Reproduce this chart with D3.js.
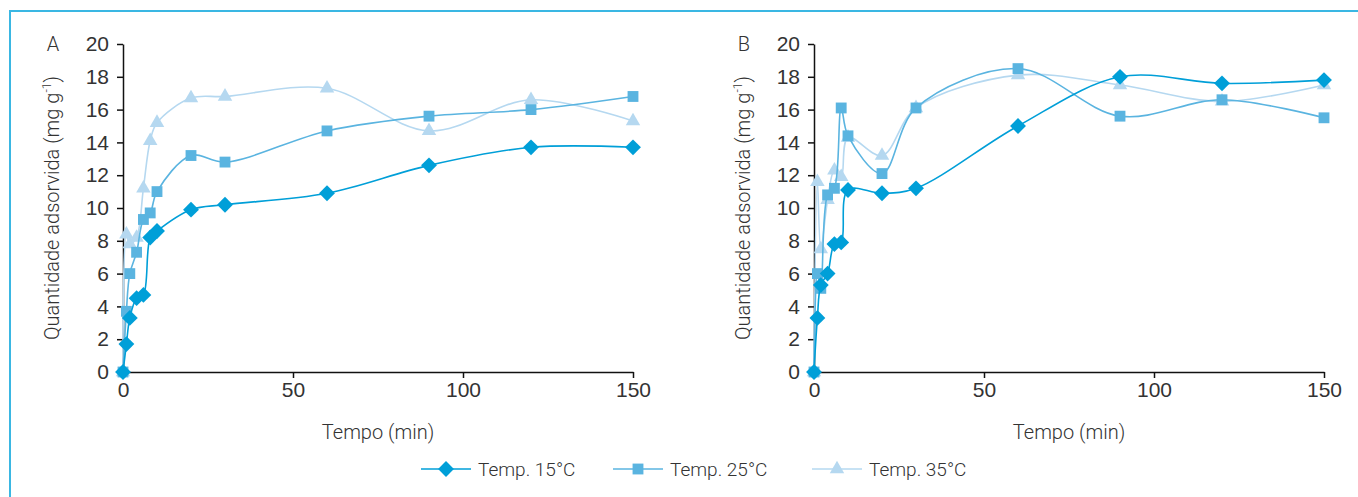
<!DOCTYPE html>
<html>
<head>
<meta charset="utf-8">
<script src="https://cdn.jsdelivr.net/npm/d3@7"></script>
<style>
  body { margin: 0; background: #fff; }
  svg { display: block; font-family: "Roboto", "Open Sans", sans-serif; font-weight: 300; }
</style>
</head>
<body>
<div id="chart-container"></div>
<script>
const width = 1358;
const height = 497;

// time points (min), shared by all series
const tempo = [0, 1, 2, 4, 6, 8, 10, 20, 30, 60, 90, 120, 150];

// panel A
const a15 = [0, 1.7, 3.3, 4.5, 4.7, 8.2, 8.6, 9.9, 10.2, 10.9, 12.6, 13.7, 13.7];
const a25 = [0, 3.7, 6.0, 7.3, 9.3, 9.7, 11.0, 13.2, 12.8, 14.7, 15.6, 16.0, 16.8];
const a35 = [0, 8.4, 7.8, 8.2, 11.2, 14.1, 15.2, 16.7, 16.8, 17.3, 14.7, 16.6, 15.3];

// panel B
const b15 = [0, 3.3, 5.3, 6.0, 7.8, 7.9, 11.1, 10.9, 11.2, 15.0, 18.0, 17.6, 17.8];
const b25 = [0, 6.0, 5.1, 10.8, 11.2, 16.1, 14.4, 12.1, 16.1, 18.5, 15.6, 16.6, 15.5];
const b35 = [0, 11.6, 7.5, 10.5, 12.3, 11.9, 14.3, 13.2, 16.1, 18.1, 17.5, 16.5, 17.5];

const seriesNames = ["Temp. 15°C", "Temp. 25°C", "Temp. 35°C"];
const colors = ["#009fd8", "#5ab4e0", "#b5d8f0"];
const symbols = [d3.symbolDiamond2, d3.symbolSquare2, d3.symbolTriangle2];
const symbolSizes = [160, 150, 150];

const xTicks = [0, 50, 100, 150];
const yTicks = d3.range(0, 21, 2);

const panels = [
  { label: "A", left: 123, series: [a15, a25, a35] },
  { label: "B", left: 814, series: [b15, b25, b35] }
];

const svg = d3.select("#chart-container")
  .append("svg")
  .attr("viewBox", [0, 0, width, height])
  .attr("width", width)
  .attr("height", height);

// frame
svg.append("path")
  .attr("d", `M10,${height} V11 H${width}`)
  .attr("fill", "none")
  .attr("stroke", "#3ab7e3")
  .attr("stroke-width", 2);

const plotTop = 44, plotBottom = 372, plotW = 510;
const textColor = "#333";

panels.forEach(p => {
  const x = d3.scaleLinear([0, 150], [p.left, p.left + plotW]);
  const y = d3.scaleLinear([0, 20], [plotBottom, plotTop]);
  const g = svg.append("g");

  const xAxis = g.append("g")
    .attr("transform", `translate(0,${plotBottom})`)
    .call(d3.axisBottom(x).tickValues(xTicks).tickSize(6).tickSizeOuter(0).tickPadding(4));
  const yAxis = g.append("g")
    .attr("transform", `translate(${p.left},0)`)
    .call(d3.axisLeft(y).tickValues(yTicks).tickSize(6).tickSizeOuter(0).tickPadding(8));

  [xAxis, yAxis].forEach(ax => {
    ax.select(".domain").attr("stroke", "#111").attr("stroke-width", 1.5);
    ax.selectAll(".tick line").attr("stroke", "#111").attr("stroke-width", 1.5);
    ax.selectAll(".tick text")
      .attr("fill", textColor)
      .style("font-size", "21px")
      .style("font-family", "inherit")
      .style("font-weight", 300);
  });

  g.append("text")
    .attr("x", p.left - 70)
    .attr("y", plotTop + 7)
    .attr("text-anchor", "middle")
    .attr("fill", textColor)
    .style("font-size", "20px")
    .text(p.label);

  g.append("text")
    .attr("x", (x(0) + x(150)) / 2)
    .attr("y", 439)
    .attr("text-anchor", "middle")
    .attr("fill", textColor)
    .style("font-size", "20px")
    .text("Tempo (min)");

  const yt = g.append("text")
    .attr("transform", `translate(${p.left - 64},${(plotTop + plotBottom) / 2}) rotate(-90)`)
    .attr("text-anchor", "middle")
    .attr("fill", textColor)
    .style("font-size", "20px");
  yt.append("tspan").text("Quantidade adsorvida (mg g");
  yt.append("tspan").attr("dy", -8).style("font-size", "12px").text("-1");
  yt.append("tspan").attr("dy", 8).text(")");

  const line = d3.line()
    .x((d, i) => x(tempo[i]))
    .y(d => y(d))
    .curve(d3.curveCatmullRom.alpha(0.5));

  // draw lightest first so darker series sit on top
  [2, 1, 0].forEach(k => {
    const vals = p.series[k];
    g.append("path")
      .attr("d", line(vals))
      .attr("fill", "none")
      .attr("stroke", colors[k])
      .attr("stroke-width", 1.6);
    g.selectAll(null)
      .data(vals)
      .join("path")
      .attr("transform", (d, i) => `translate(${x(tempo[i])},${y(d)})`)
      .attr("d", d3.symbol(symbols[k], symbolSizes[k]))
      .attr("fill", colors[k]);
  });
});

// legend
const legendX = [421, 613, 812];
const legend = svg.append("g").attr("transform", "translate(0,469)");
seriesNames.forEach((name, k) => {
  const lg = legend.append("g").attr("transform", `translate(${legendX[k]},0)`);
  lg.append("line").attr("x1", 0).attr("x2", 50).attr("stroke", colors[k]).attr("stroke-width", 1.6);
  lg.append("path").attr("transform", "translate(25,0)")
    .attr("d", d3.symbol(symbols[k], symbolSizes[k]))
    .attr("fill", colors[k]);
  lg.append("text")
    .attr("x", 57)
    .attr("y", 7)
    .attr("fill", textColor)
    .style("font-size", "19px")
    .text(name);
});
</script>
</body>
</html>
